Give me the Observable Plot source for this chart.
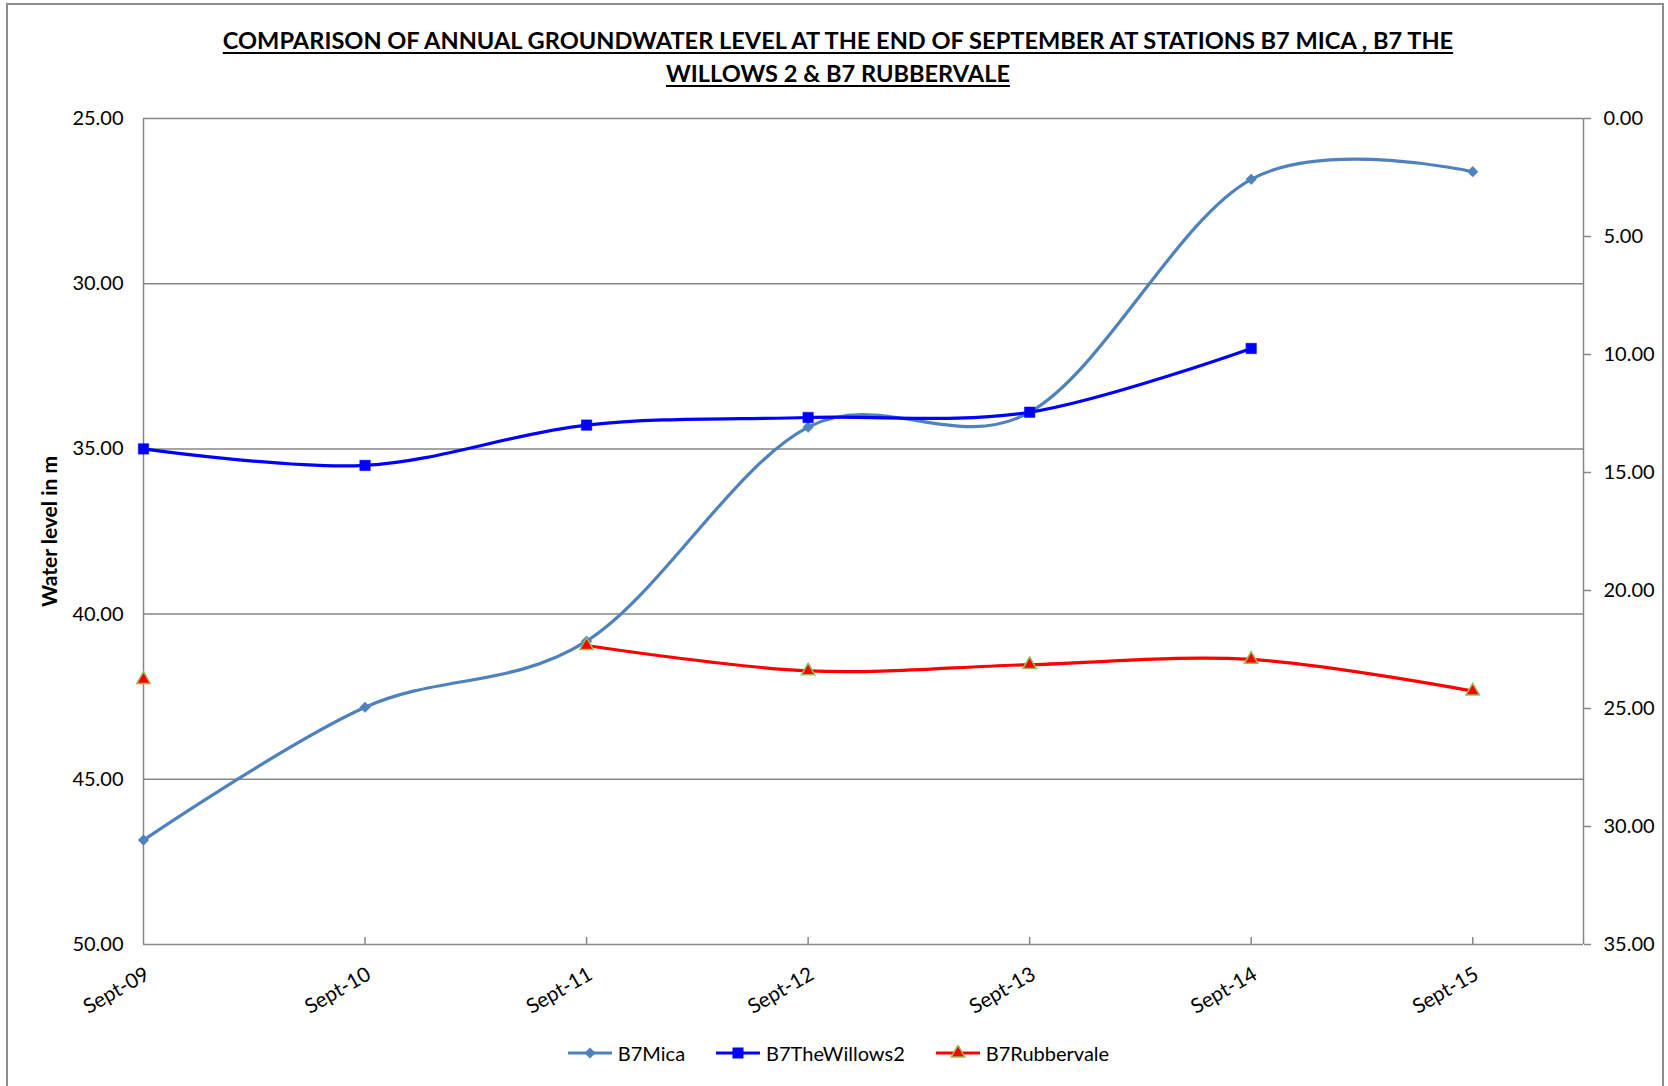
<!DOCTYPE html>
<html>
<head>
<meta charset="utf-8">
<script src="https://cdn.jsdelivr.net/npm/d3@7"></script>
<script src="https://cdn.jsdelivr.net/npm/@observablehq/plot@0.6"></script>
<style>
  html, body { margin: 0; padding: 0; background: #fff; }
  #chart { position: relative; width: 1668px; height: 1086px; overflow: hidden; font-family: Lato, "Open Sans", sans-serif; }
  #border { position: absolute; left: 6px; top: 3px; width: 1658px; height: 1100px; border: 2px solid #8c8c8c; box-sizing: border-box; }
  #title { position: absolute; left: 0; top: 24px; width: 1676px; text-align: center; font-weight: 700; font-size: 23.6px; line-height: 33px; text-decoration: underline; text-decoration-thickness: 2px; text-underline-offset: 3px; color: #000; }
  #plot { position: absolute; left: 0; top: 0; }
  #legend { position: absolute; left: 0; top: 1041px; width: 1676px; display: flex; justify-content: center; gap: 30px; font-size: 20px; color: #000; }
  .item { display: flex; align-items: center; gap: 5px; }
</style>
</head>
<body>
<div id="chart">
  <div id="border"></div>
  <div id="plot"></div>
  <div id="title"></div>
  <div id="legend"></div>
</div>
<script>
const titleLines = ["COMPARISON OF ANNUAL GROUNDWATER LEVEL AT THE END OF SEPTEMBER AT STATIONS B7 MICA , B7 THE", "WILLOWS 2 & B7 RUBBERVALE"];
const yTitle = "Water level in m";
const categories = ["Sept-09", "Sept-10", "Sept-11", "Sept-12", "Sept-13", "Sept-14", "Sept-15"];
const seriesNames = ["B7Mica", "B7TheWillows2", "B7Rubbervale"];
const mica = [46.84, 42.82, 40.82, 34.34, 33.89, 26.84, 26.61];
const willows = [35.00, 35.50, 34.28, 34.05, 33.89, 31.96, null];
const rubbervale = [41.98, null, 40.95, 41.72, 41.53, 41.37, 42.33];
const leftTicks = [25, 30, 35, 40, 45, 50];
const rightTicks = [0, 5, 10, 15, 20, 25, 30, 35];

const styles = {
  B7Mica: {stroke: "#4F81BD", symbol: "diamond2", r: 4.8, fill: "#4F81BD", dotStroke: "#4F81BD"},
  B7TheWillows2: {stroke: "#0000FF", symbol: "square", r: 5.9, fill: "#0000FF", dotStroke: "#0000FF"},
  B7Rubbervale: {stroke: "#FF0000", symbol: "triangle", r: 5.0, fill: "#FF0000", dotStroke: "#9BBB59"}
};
const valuesBySeries = {B7Mica: mica, B7TheWillows2: willows, B7Rubbervale: rubbervale};
const rows = seriesNames.map(s => valuesBySeries[s].map((v, i) => ({series: s, i, cat: categories[i], v})));

// left axis 25..50 maps onto right axis 0..35
const leftMin = leftTicks[0], leftMax = leftTicks[leftTicks.length - 1];
const rightMin = rightTicks[0], rightMax = rightTicks[rightTicks.length - 1];
const toLeft = r => leftMin + (r - rightMin) * (leftMax - leftMin) / (rightMax - rightMin);
const toRight = l => rightMin + (l - leftMin) * (rightMax - rightMin) / (leftMax - leftMin);

document.getElementById("title").innerHTML = titleLines.join("<br>");

const grid = "#868686";
const seriesMarks = seriesNames.flatMap((s, k) => {
  const st = styles[s];
  return [
    Plot.line(rows[k], {x: "i", y: "v", stroke: st.stroke, strokeWidth: 3.2, curve: "cardinal", tension: 0}),
    Plot.dot(rows[k].filter(d => d.v != null), {x: "i", y: "v", symbol: () => st.symbol, r: st.r, fill: st.fill, stroke: st.dotStroke, strokeWidth: s === "B7Rubbervale" ? 1.5 : 0.5})
  ];
});

const plot = Plot.plot({
  width: 1668,
  height: 1086,
  marginLeft: 143,
  marginRight: 85,
  marginTop: 118,
  marginBottom: 142,
  style: {fontFamily: "Lato, 'Open Sans', sans-serif", fontSize: "20px", color: "#000", background: "transparent", overflow: "visible"},
  x: {domain: [0, categories.length - 0.5], axis: null},
  y: {domain: [leftMin, leftMax], reverse: true, axis: null},
  symbol: {type: "identity"},
  marks: [
    Plot.ruleY(leftTicks, {stroke: grid, strokeWidth: 1.5}),
    Plot.ruleX([0, categories.length - 0.5], {stroke: grid, strokeWidth: 1.5}),
    Plot.axisY({anchor: "left", ticks: leftTicks, tickSize: 0, tickPadding: 20, tickFormat: d => d.toFixed(2), label: null, fontSize: 20}),
    Plot.axisY({anchor: "right", ticks: rightTicks.map(toLeft), tickSize: 7, tickPadding: 13, stroke: grid, strokeWidth: 1.5, tickFormat: d => toRight(d).toFixed(2), label: null, fontSize: 20, textAnchor: "start"}),
    Plot.axisX({anchor: "bottom", ticks: d3.range(1, categories.length), tickSize: 7, dy: -7, stroke: grid, strokeWidth: 1.5, tickFormat: () => "", label: null}),
    Plot.text(categories, {x: (d, i) => i, text: d => d, frameAnchor: "bottom", rotate: -30, textAnchor: "end", lineAnchor: "middle", dx: 4, dy: 28, fontSize: 20.5}),
    Plot.text([yTitle], {frameAnchor: "left", text: d => d, rotate: -90, textAnchor: "middle", lineAnchor: "middle", dx: -93, fontWeight: "bold", fontSize: 21}),
    ...seriesMarks
  ]
});
document.getElementById("plot").appendChild(plot);

// legend
const legend = document.getElementById("legend");
const symPath = (sym, r) => {
  const map = {diamond2: d3.symbolDiamond2, square: d3.symbolSquare, triangle: d3.symbolTriangle};
  return d3.symbol(map[sym], Math.PI * r * r)();
};
seriesNames.forEach(s => {
  const st = styles[s];
  const item = document.createElement("div");
  item.className = "item";
  item.innerHTML = `<svg width="46" height="16" viewBox="-23 -8 46 16"><line x1="-22" x2="22" y1="0" y2="0" stroke="${st.stroke}" stroke-width="3.2"/><path d="${symPath(st.symbol, st.r)}" fill="${st.fill}" stroke="${st.dotStroke}" stroke-width="${s === "B7Rubbervale" ? 1.5 : 0.5}"/></svg><span>${s}</span>`;
  legend.appendChild(item);
});
</script>
</body>
</html>
